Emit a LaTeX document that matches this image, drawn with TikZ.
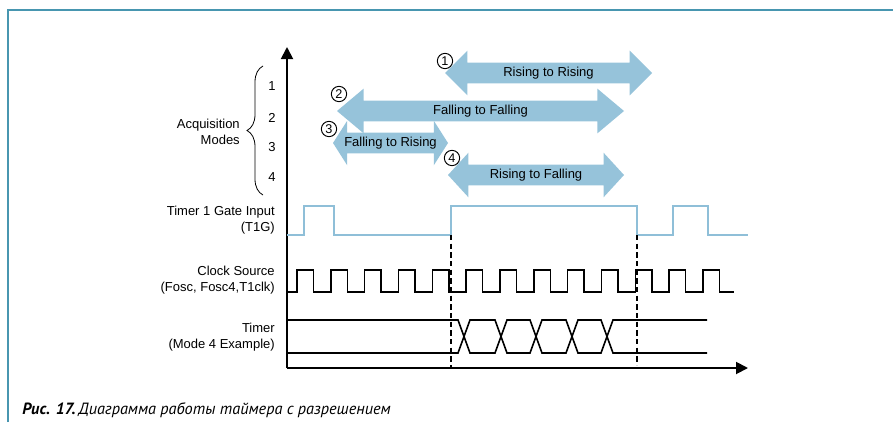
\documentclass[tikz,border=0pt]{standalone}
\usepackage{fontspec}
\setmainfont{Liberation Sans}
\newfontfamily\capfont{PT Sans}
\usetikzlibrary{shapes.arrows, arrows.meta, decorations.pathreplacing}

\definecolor{modeblue}{RGB}{150,195,218}
\definecolor{gateblue}{RGB}{143,191,216}
\definecolor{framecol}{RGB}{72,150,176}

\tikzset{
  lbl/.style={font=\fontsize{9.75}{12}\selectfont, inner sep=0pt},
  mode/.style={double arrow, fill=modeblue, draw=none, double arrow head extend=9pt,
    text height=8pt, text depth=2pt, inner ysep=2.5pt, inner xsep=0pt},
  num/.style={circle, draw, line width=0.7pt, minimum size=11.5pt, inner sep=0pt,
    font=\fontsize{9.5}{10}\selectfont},
  sig/.style={line width=1.2pt},
  gate/.style={gateblue, line width=1.2pt},
  axis/.style={line width=1.4pt, -{Triangle[length=9pt,width=9pt]}}
}

\begin{document}
\begin{tikzpicture}[x=0.75pt,y=-0.75pt]
\useasboundingbox (0,0) rectangle (893,422);
\draw[framecol, line width=1.5pt] (8,422) -- (8,10) -- (893,10);

% axes
\coordinate (O) at (287,368);
\coordinate (ytop) at (287,47);
\coordinate (xend) at (748,368);
\draw[axis] (O) -- (ytop);
\draw[axis] (O) -- (xend);

% acquisition modes
\node[lbl, anchor=east, align=right] (acq) at (240,132) {Acquisition\\Modes};
\draw[decorate, decoration={brace, amplitude=12pt}, line width=0.6pt] (263,195) -- (263,66);
\foreach \n/\y in {1/86,2/118,3/147,4/177}
  \node[lbl] (lv\n) at (272,\y) {\n};

\node[mode, minimum height=155.25pt, double arrow tip angle=90] (m1) at (548.5,73) {};
\node[mode, minimum height=215.25pt, double arrow tip angle=80] (m2) at (480.5,111) {};
\node[mode, minimum height=86.25pt, double arrow tip angle=115] (m3) at (390.5,143) {};
\node[mode, minimum height=132pt, double arrow tip angle=95] (m4) at (536,175) {};
\node[lbl] (m1txt) at (m1) {Rising to Rising};
\node[lbl] (m2txt) at (m2) {Falling to Falling};
\node[lbl] (m3txt) at (m3) {Falling to Rising};
\node[lbl] (m4txt) at (m4) {Rising to Falling};
\node[num] (c1) at (445,61) {1};
\node[num] (c2) at (339,94) {2};
\node[num] (c3) at (329,129) {3};
\node[num] (c4) at (452,158) {4};

% signals
\node[lbl, anchor=east, align=right] (gatelbl) at (275,220) {Timer 1 Gate Input\\(T1G)};
\node[lbl, anchor=east, align=right] (clklbl) at (275,280.5) {Clock Source\\(Fosc, Fosc4,T1clk)};
\node[lbl, anchor=east, align=right] (tmrlbl) at (275,337.5) {Timer\\(Mode 4 Example)};

\draw[gate] (287,235) -| (304,206) -| (334,235) -| (451,206) -| (637,235)
  -| (673,206) -| (708,235) -- (748,235);

\draw[sig] (287,292) foreach \k in {0,...,12} {
  -- ({297+33.83*\k},292) -- ++(0,-22) -- ++(16.5,0) -- ++(0,22) } -- (734,292);

\draw[sig] (287,320) foreach \c/\a/\b in {464/320/353,501/353/320,536/320/353,572/353/320,607/320/353}
  { -- (\c-6,\a) -- (\c+6,\b) } -- (707,353);
\draw[sig] (287,353) foreach \c/\a/\b in {464/353/320,501/320/353,536/353/320,572/320/353,607/353/320}
  { -- (\c-6,\a) -- (\c+6,\b) } -- (707,320);

\draw[line width=0.8pt, dash pattern=on 4pt off 2.5pt] (451,235) -- (451,368);
\draw[line width=0.8pt, dash pattern=on 4pt off 2.5pt] (637,235) -- (637,365);

\node[anchor=base west, inner sep=0pt, font=\capfont\fontsize{12.2}{14}\selectfont] (cap) at (22,414)
  {\textbf{\textit{Рис. 17.}}\,\textit{Диаграмма работы таймера с разрешением}};
\end{tikzpicture}
\end{document}
